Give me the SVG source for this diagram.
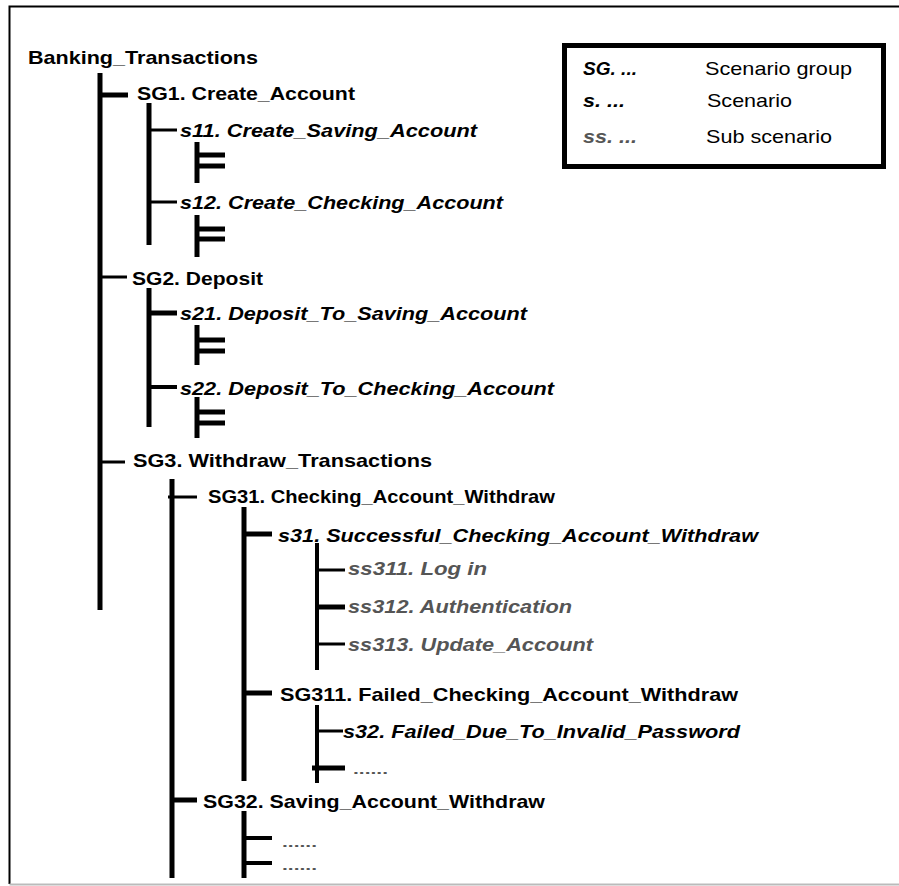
<svg xmlns="http://www.w3.org/2000/svg" width="899" height="886" viewBox="0 0 899 886">
<style>
text{font-family:"Liberation Sans",Arial,sans-serif;font-size:19px;fill:#000}
.g{font-weight:bold}
.s{font-weight:bold;font-style:italic}
.ss{font-weight:bold;font-style:italic;fill:#555}
.lg{font-weight:normal}
.d{font-size:13px;fill:#555;font-weight:bold}
.c line{stroke:#000;stroke-linecap:butt}
.w5{stroke-width:5}
.w4{stroke-width:4}
.w3{stroke-width:3}
</style>
<rect width="899" height="886" fill="#fff"/>
<g id="frame">
<path d="M899,6.5 H9.5 V884" fill="none" stroke="#000" stroke-width="2"/>
<path d="M9.5,884.5 H899" fill="none" stroke="#bbb" stroke-width="2"/>
</g>
<g id="legend">
<rect x="564.5" y="45.5" width="319" height="121" fill="#fff" stroke="#000" stroke-width="5"/>
<text class="s" x="583" y="75" textLength="54" lengthAdjust="spacingAndGlyphs">SG. ...</text>
<text class="s" x="583" y="107" textLength="42" lengthAdjust="spacingAndGlyphs">s. ...</text>
<text class="ss" x="583" y="143" textLength="54" lengthAdjust="spacingAndGlyphs">ss. ...</text>
<text class="lg" x="705" y="75" textLength="147" lengthAdjust="spacingAndGlyphs">Scenario group</text>
<text class="lg" x="707" y="107" textLength="85" lengthAdjust="spacingAndGlyphs">Scenario</text>
<text class="lg" x="706" y="143" textLength="126" lengthAdjust="spacingAndGlyphs">Sub scenario</text>
</g>
<g id="connectors" class="c">
<line class="w5" x1="100" y1="73" x2="100" y2="610"/>
<line class="w5" x1="100" y1="95" x2="128" y2="95"/>
<line class="w3" x1="100" y1="277" x2="127" y2="277"/>
<line class="w3" x1="100" y1="462" x2="125" y2="462"/>
<line class="w5" x1="149" y1="103" x2="149" y2="245"/>
<line class="w3" x1="149" y1="130" x2="177" y2="130"/>
<line class="w3" x1="149" y1="202" x2="177" y2="202"/>
<line class="w5" x1="197" y1="142" x2="197" y2="183"/>
<line class="w5" x1="197" y1="155" x2="225" y2="155"/>
<line class="w5" x1="197" y1="166" x2="225" y2="166"/>
<line class="w5" x1="197" y1="215" x2="197" y2="257"/>
<line class="w5" x1="197" y1="229" x2="225" y2="229"/>
<line class="w5" x1="197" y1="239" x2="225" y2="239"/>
<line class="w5" x1="149" y1="288" x2="149" y2="427"/>
<line class="w5" x1="149" y1="313" x2="177" y2="313"/>
<line class="w4" x1="149" y1="387" x2="177" y2="387"/>
<line class="w5" x1="197" y1="325" x2="197" y2="365"/>
<line class="w5" x1="197" y1="340" x2="225" y2="340"/>
<line class="w5" x1="197" y1="351" x2="225" y2="351"/>
<line class="w5" x1="197" y1="397" x2="197" y2="438"/>
<line class="w5" x1="197" y1="412" x2="225" y2="412"/>
<line class="w5" x1="197" y1="423" x2="225" y2="423"/>
<line class="w5" x1="172" y1="479" x2="172" y2="878"/>
<line class="w3" x1="168" y1="497" x2="197" y2="497"/>
<line class="w5" x1="172" y1="800" x2="197" y2="800"/>
<line class="w5" x1="244" y1="507" x2="244" y2="781"/>
<line class="w5" x1="244" y1="534" x2="272" y2="534"/>
<line class="w5" x1="244" y1="693" x2="272" y2="693"/>
<line class="w4" x1="317" y1="543" x2="317" y2="670"/>
<line class="w3" x1="317" y1="570" x2="345" y2="570"/>
<line class="w5" x1="317" y1="607" x2="345" y2="607"/>
<line class="w3" x1="317" y1="644" x2="345" y2="644"/>
<line class="w4" x1="317" y1="705" x2="317" y2="783"/>
<line class="w3" x1="317" y1="731" x2="343" y2="731"/>
<line class="w5" x1="312" y1="768" x2="345" y2="768"/>
<line class="w5" x1="244" y1="811" x2="244" y2="878"/>
<line class="w4" x1="244" y1="838" x2="272" y2="838"/>
<line class="w4" x1="244" y1="863" x2="272" y2="863"/>
</g>
<g id="root"><text class="g" x="28" y="64" textLength="230" lengthAdjust="spacingAndGlyphs">Banking_Transactions</text></g>
<g id="SG1"><text class="g" x="137" y="100" textLength="218" lengthAdjust="spacingAndGlyphs">SG1. Create_Account</text></g>
<g id="s11"><text class="s" x="180" y="137" textLength="297" lengthAdjust="spacingAndGlyphs">s11. Create_Saving_Account</text></g>
<g id="s12"><text class="s" x="180" y="209" textLength="323" lengthAdjust="spacingAndGlyphs">s12. Create_Checking_Account</text></g>
<g id="SG2"><text class="g" x="132" y="285" textLength="131" lengthAdjust="spacingAndGlyphs">SG2. Deposit</text></g>
<g id="s21"><text class="s" x="180" y="320" textLength="347" lengthAdjust="spacingAndGlyphs">s21. Deposit_To_Saving_Account</text></g>
<g id="s22"><text class="s" x="180" y="395" textLength="374" lengthAdjust="spacingAndGlyphs">s22. Deposit_To_Checking_Account</text></g>
<g id="SG3"><text class="g" x="133" y="467" textLength="299" lengthAdjust="spacingAndGlyphs">SG3. Withdraw_Transactions</text></g>
<g id="SG31"><text class="g" x="208" y="503" textLength="347" lengthAdjust="spacingAndGlyphs">SG31. Checking_Account_Withdraw</text></g>
<g id="s31"><text class="s" x="278" y="542" textLength="480" lengthAdjust="spacingAndGlyphs">s31. Successful_Checking_Account_Withdraw</text></g>
<g id="ss311"><text class="ss" x="348" y="575" textLength="139" lengthAdjust="spacingAndGlyphs">ss311. Log in</text></g>
<g id="ss312"><text class="ss" x="348" y="613" textLength="224" lengthAdjust="spacingAndGlyphs">ss312. Authentication</text></g>
<g id="ss313"><text class="ss" x="348" y="651" textLength="245" lengthAdjust="spacingAndGlyphs">ss313. Update_Account</text></g>
<g id="SG311"><text class="g" x="280" y="701" textLength="458" lengthAdjust="spacingAndGlyphs">SG311. Failed_Checking_Account_Withdraw</text></g>
<g id="s32"><text class="s" x="343" y="738" textLength="397" lengthAdjust="spacingAndGlyphs">s32. Failed_Due_To_Invalid_Password</text></g>
<g id="dots1"><text class="d" x="353" y="774" textLength="35" lengthAdjust="spacingAndGlyphs">......</text></g>
<g id="SG32"><text class="g" x="203" y="808" textLength="342" lengthAdjust="spacingAndGlyphs">SG32. Saving_Account_Withdraw</text></g>
<g id="dots2"><text class="d" x="282" y="847" textLength="35" lengthAdjust="spacingAndGlyphs">......</text></g>
<g id="dots3"><text class="d" x="282" y="870" textLength="35" lengthAdjust="spacingAndGlyphs">......</text></g>
</svg>
